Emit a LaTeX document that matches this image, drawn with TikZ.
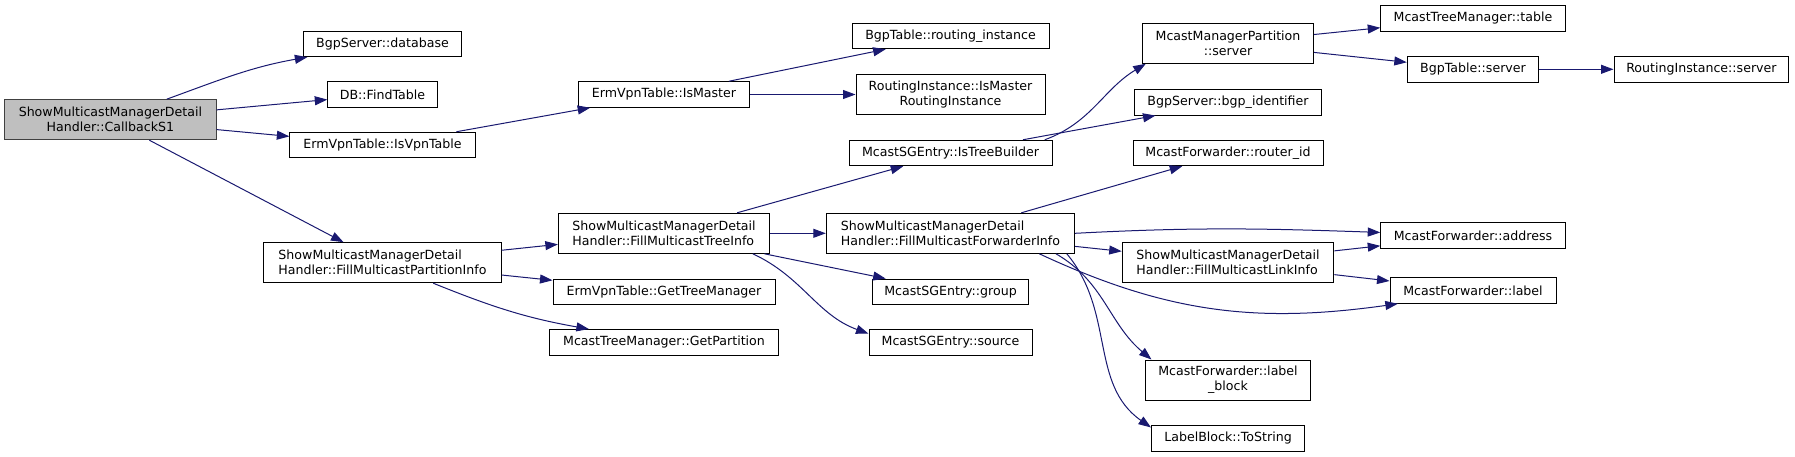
\documentclass[tikz,border=0pt]{standalone}
\usepackage{fontspec}
\setmainfont{DejaVu Sans}
\usetikzlibrary{arrows.meta}
\definecolor{edgeblue}{HTML}{191970}
\definecolor{rootgray}{HTML}{BFBFBF}
\definecolor{rootline}{HTML}{404040}

\begin{document}
\begin{tikzpicture}[
    x=1pt, y=1pt,
    fn/.style={draw=black, fill=white, line width=1pt, inner xsep=3pt, inner ysep=1pt,
               minimum height=25.5pt, align=center, font=\fontsize{12.6}{15}\selectfont},
    fnii/.style={fn, minimum height=40pt},
    root/.style={fnii, draw=rootline, fill=rootgray},
    call/.style={draw=edgeblue, line width=1pt, -{Triangle[length=12.5pt,width=9pt]}}
]

\useasboundingbox (0,0) rectangle (1795,-457);

% ================= column 1 : caller =================

\node[root, minimum width=211.6pt] (cb) at (110.4,-119.7)
    {ShowMulticastManagerDetail\\Handler::CallbackS1};

% ================= column 2 =================

\node[fn, minimum width=157.7pt] (bgpdb)     at (382.5,-43.9)  {BgpServer::database};
\node[fn, minimum width=109.4pt] (findtable) at (382.5,-94.5)  {DB::FindTable};
\node[fn, minimum width=185.3pt] (isvpn)     at (382.5,-145)   {ErmVpnTable::IsVpnTable};
\node[fnii, align=left, minimum width=237.3pt] (fillpart) at (382.5,-262.7)
    {ShowMulticastManagerDetail\\Handler::FillMulticastPartitionInfo};

% ================= column 3 =================

\node[fn, minimum width=170.4pt] (ismaster) at (664,-94.5) {ErmVpnTable::IsMaster};
\node[fnii, align=left, minimum width=211.3pt] (filltree) at (664,-233.3)
    {ShowMulticastManagerDetail\\Handler::FillMulticastTreeInfo};
\node[fn, minimum width=222pt]   (gettm)   at (664,-291.8) {ErmVpnTable::GetTreeManager};
\node[fn, minimum width=228.5pt] (getpart) at (664,-342.3) {McastTreeManager::GetPartition};

% ================= column 4 =================

\node[fn, minimum width=197pt]   (rinst)    at (950.5,-36)   {BgpTable::routing\_instance};
\node[fnii, minimum width=189pt] (rimaster) at (950.5,-94.5)
    {RoutingInstance::IsMaster\\RoutingInstance};
\node[fn, minimum width=203pt]   (treebuilder) at (950.5,-153) {McastSGEntry::IsTreeBuilder};
\node[fnii, align=left, minimum width=248.4pt] (fillfwd) at (950.5,-233.3)
    {ShowMulticastManagerDetail\\Handler::FillMulticastForwarderInfo};
\node[fn, minimum width=156.5pt] (group)  at (950.5,-291.8) {McastSGEntry::group};
\node[fn, minimum width=163pt]   (source) at (950.5,-342.3) {McastSGEntry::source};

% ================= column 5 =================

\node[fnii, minimum width=171pt] (mmpserver) at (1228,-43.3)
    {McastManagerPartition\\::server};
\node[fn, minimum width=186.7pt] (bgpid)    at (1228,-102.3) {BgpServer::bgp\_identifier};
\node[fn, minimum width=190pt]   (routerid) at (1228,-153)   {McastForwarder::router\_id};
\node[fnii, align=left, minimum width=211.6pt] (linkinfo) at (1228,-262.5)
    {ShowMulticastManagerDetail\\Handler::FillMulticastLinkInfo};
\node[fnii, minimum width=165pt] (labelblock) at (1228,-380)
    {McastForwarder::label\\\_block};
\node[fn, minimum width=153pt]   (tostring) at (1228,-438.3) {LabelBlock::ToString};

% ================= column 6 and 7 =================

\node[fn, minimum width=184.5pt] (mtmtable)   at (1473,-18.3)  {McastTreeManager::table};
\node[fn, minimum width=131.4pt] (bgptserver) at (1473,-69.3)  {BgpTable::server};
\node[fn, minimum width=184.5pt] (address)    at (1473,-235.7) {McastForwarder::address};
\node[fn, minimum width=166pt]   (label)      at (1473,-290.5) {McastForwarder::label};
\node[fn, minimum width=174.8pt] (riserver)   at (1701.4,-69.3) {RoutingInstance::server};

% ================= calls =================

\draw[call] (cb) to[out=20,in=190] (bgpdb);
\draw[call] (cb) -- (findtable);
\draw[call] (cb) -- (isvpn);
\draw[call] (cb) -- (fillpart);

\draw[call] (isvpn) -- (ismaster);
\draw[call] (ismaster) -- (rinst);
\draw[call] (ismaster) -- (rimaster);

\draw[call] (fillpart) -- (filltree);
\draw[call] (fillpart) -- (gettm);
\draw[call] (fillpart) to[out=-22,in=170] (getpart);

\draw[call] (filltree) -- (treebuilder);
\draw[call] (filltree) -- (fillfwd);
\draw[call] (filltree) -- (group);
\draw[call] (filltree.-13) to[out=-25,in=160] (source.174);

\draw[call] (treebuilder.8) to[out=20,in=211] (mmpserver.194);
\draw[call] (treebuilder) -- (bgpid);
\draw[call] (mmpserver) -- (mtmtable);
\draw[call] (mmpserver) -- (bgptserver);
\draw[call] (bgptserver) -- (riserver);

\draw[call] (fillfwd) -- (routerid);
\draw[call] (fillfwd.east) to[out=3,in=178] (address.178);
\draw[call] (fillfwd) -- (linkinfo);
\draw[call] (linkinfo) -- (address);
\draw[call] (linkinfo) -- (label);
\draw[call] (fillfwd.-13) to[out=-25,in=188] (label.190);
\draw[call] (fillfwd.-11) to[out=-30,in=140] (labelblock.165);
\draw[call] (fillfwd.-10.5) to[out=-50,in=145] (tostring.172);

\end{tikzpicture}
\end{document}
